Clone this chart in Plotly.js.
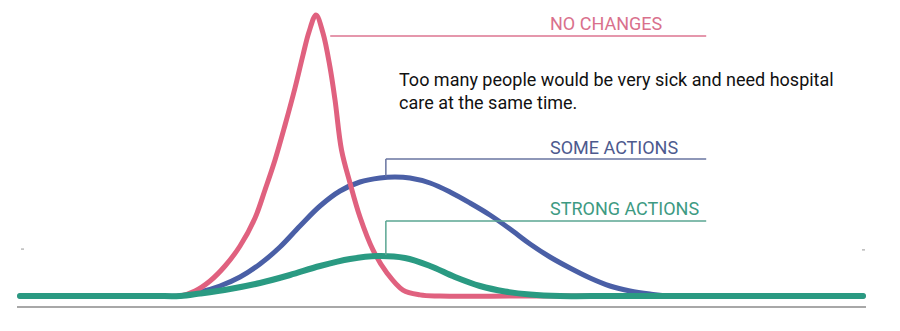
<!DOCTYPE html>
<html>
<head>
<meta charset="utf-8">
<script src="https://cdn.plot.ly/plotly-3.0.1.min.js"></script>
<style>
  html, body { margin: 0; padding: 0; background: #fff; }
  #chart { width: 900px; height: 331px; }
  path.js-line { stroke-linecap: round; stroke-linejoin: round; }
</style>
</head>
<body>
<div id="chart"></div>
<script>
// ---- Data (days vs. number of people needing care) ----
const noChangesDays = [0, 10, 16, 18.98, 20.76, 22.54, 24.32, 26.10, 27.88, 29.06, 30.25, 31.44, 32.62, 33.57, 34.28, 35.11, 35.94, 36.77, 37.37, 38.14, 39.15, 40.33, 41.87, 43.53, 45.43, 47.45, 49.8, 60, 80, 100];
const noChangesVals = [0, 0, 0, 0, 1.78, 5.34, 10.68, 17.79, 27.76, 37.72, 48.40, 60.85, 74.02, 85.77, 93.95, 100, 93.6, 81.5, 69.75, 51.96, 40.2, 28.1, 16.4, 8.2, 2.1, 0.4, 0, 0, 0, 0];

const someActionsDays = [0, 10, 16, 18.98, 21.35, 23.72, 26.10, 28.47, 30.84, 33.21, 35.59, 37.96, 40.33, 42.70, 44.48, 46.26, 48.64, 51.01, 53.38, 55.75, 58.13, 60.50, 62.87, 65.24, 67.62, 69.99, 72.36, 74.73, 77.11, 85, 100];
const someActionsVals = [0, 0, 0, 0, 1.42, 3.56, 6.76, 11.39, 17.44, 24.91, 32.03, 37.37, 40.57, 42.00, 42.35, 42.00, 40.21, 37.01, 33.10, 28.83, 23.84, 18.51, 13.88, 9.96, 6.41, 3.56, 1.78, 0.71, 0, 0, 0];

const strongActionsDays = [0, 10, 16, 18.98, 21.35, 24.91, 28.47, 32.03, 35.59, 39.15, 42.47, 45.67, 48.64, 51.6, 54.57, 57.53, 60.5, 64.06, 70, 80, 100];
const strongActionsVals = [0, 0, 0, 0, 0.89, 2.49, 4.63, 7.47, 10.68, 13.17, 14.23, 13.52, 10.68, 6.76, 3.56, 1.6, 0.53, 0, 0, 0, 0];

// Labels: text, label anchor (day, value), leader line corner (day, value) and curve point it points to
const labelTexts   = ["NO CHANGES", "SOME ACTIONS", "STRONG ACTIONS"];
const labelTextDay = [62.6, 62.6, 62.6];
const labelTextVal = [96.8, 52.9, 31.0];
const leaderStartDay = [36.8, 43.4, 43.4];
const leaderEndDay   = [81.4, 81.4, 81.4];
const leaderVal      = [92.5, 48.75, 26.7];
const leaderDropVal  = [92.5, 42.5, 14.6];

const noteText = "Too many people would be very sick and need hospital<br>care at the same time.";
const noteDay = 44.7;
const noteVal = 72.8;

// ---- Styling ----
const lineColors  = ["#e0617f", "#4a5fa6", "#2a9a82"];
const leaderColors = ["#dc7590", "#6874a0", "#5aa692"];
const labelColors = ["#d9708c", "#4d5a8e", "#3d9a82"];

// pixel mapping of the reference: day -> px = 20 + 8.43*day ; value -> px = 296 - 2.81*value
const W = 900, H = 331;
const plotLeft = 17, plotRight = 866, plotTop = 10, plotBottom = 306;
const xr = [(plotLeft - 20) / 8.43, (plotRight - 20) / 8.43];
const yr = [(296 - plotBottom) / 2.81, (296 - plotTop) / 2.81];

const traces = [
  { x: someActionsDays, y: someActionsVals, mode: "lines", line: { color: lineColors[1], width: 5, shape: "spline", smoothing: 1 }, hoverinfo: "skip" },
  { x: noChangesDays, y: noChangesVals, mode: "lines", line: { color: lineColors[0], width: 5, shape: "spline", smoothing: 1 }, hoverinfo: "skip" },
  { x: strongActionsDays, y: strongActionsVals, mode: "lines", line: { color: lineColors[2], width: 6, shape: "spline", smoothing: 1 }, hoverinfo: "skip" }
];

const shapes = [];
for (let i = 0; i < labelTexts.length; i++) {
  shapes.push({ type: "line", xref: "x", yref: "y", x0: leaderStartDay[i], x1: leaderEndDay[i], y0: leaderVal[i], y1: leaderVal[i], line: { color: leaderColors[i], width: 1.5 } });
  if (leaderDropVal[i] !== leaderVal[i]) {
    shapes.push({ type: "line", xref: "x", yref: "y", x0: leaderStartDay[i], x1: leaderStartDay[i], y0: leaderVal[i], y1: leaderDropVal[i], line: { color: leaderColors[i], width: 1.5 } });
  }
}
// tiny grey ticks at the sides
shapes.push({ type: "line", xref: "paper", yref: "y", x0: (21 - plotLeft) / (plotRight - plotLeft), x1: (24 - plotLeft) / (plotRight - plotLeft), y0: 16.7, y1: 16.7, line: { color: "#999", width: 1 } });
shapes.push({ type: "line", xref: "paper", yref: "y", x0: (862 - plotLeft) / (plotRight - plotLeft), x1: (865 - plotLeft) / (plotRight - plotLeft), y0: 16.4, y1: 16.4, line: { color: "#999", width: 1 } });

const annotations = [];
for (let i = 0; i < labelTexts.length; i++) {
  annotations.push({ x: labelTextDay[i], y: labelTextVal[i], xref: "x", yref: "y", text: labelTexts[i], showarrow: false, xanchor: "left", yanchor: "middle", font: { family: "Roboto", size: 18, color: labelColors[i] } });
}
annotations.push({ x: noteDay, y: noteVal, xref: "x", yref: "y", text: noteText, showarrow: false, xanchor: "left", yanchor: "middle", align: "left", font: { family: "Roboto", size: 18, color: "#111" } });

const layout = {
  width: W, height: H,
  margin: { l: plotLeft, r: W - plotRight, t: plotTop, b: H - plotBottom, pad: 0 },
  paper_bgcolor: "#fff", plot_bgcolor: "#fff",
  showlegend: false,
  xaxis: { range: xr, showgrid: false, zeroline: false, showticklabels: false, ticks: "", showline: true, linecolor: "#a8a8a8", linewidth: 1.5, fixedrange: true },
  yaxis: { range: yr, showgrid: false, zeroline: false, showticklabels: false, ticks: "", showline: false, fixedrange: true },
  shapes: shapes,
  annotations: annotations
};

Plotly.newPlot("chart", traces, layout, { staticPlot: true, displayModeBar: false });
</script>
</body>
</html>
